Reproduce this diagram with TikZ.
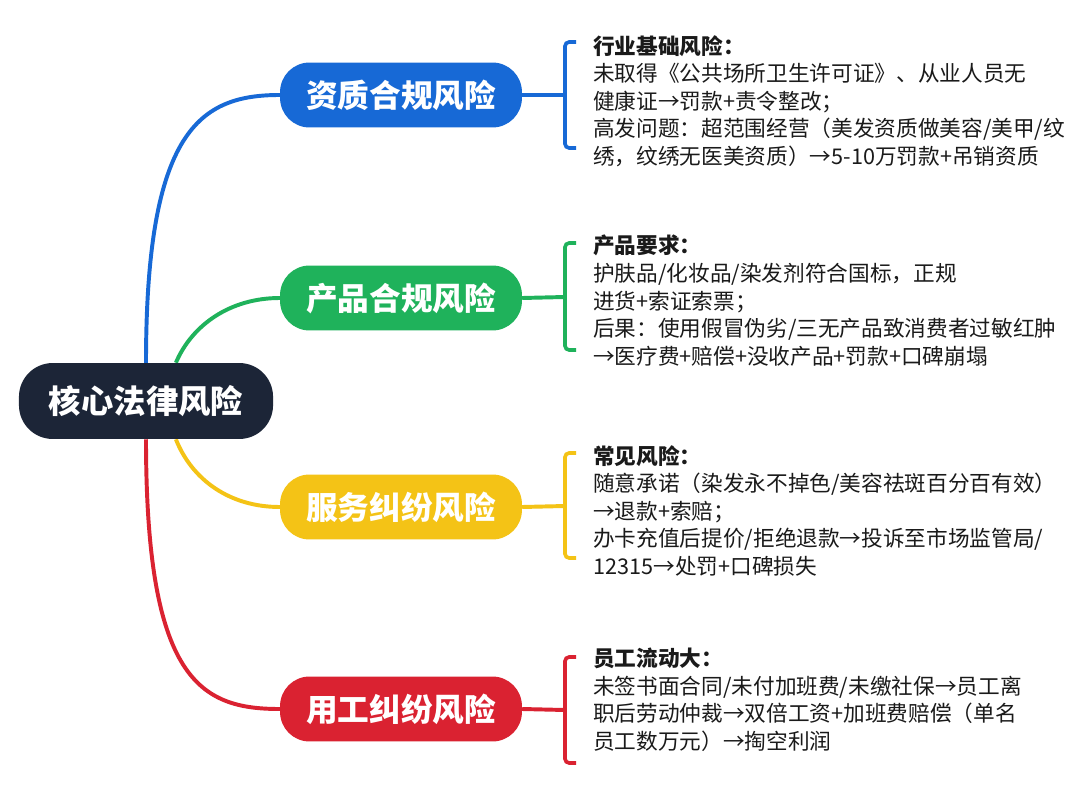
\documentclass[tikz,border=0pt]{standalone}
\usepackage{fontspec}
\usepackage{tikz}
\usetikzlibrary{backgrounds,positioning}
\setmainfont{Noto Sans CJK SC}
\definecolor{RiskNavy}{HTML}{1C2537}
\definecolor{RiskBlue}{HTML}{1769D6}
\definecolor{RiskGreen}{HTML}{1FB25B}
\definecolor{RiskYellow}{HTML}{F4C316}
\definecolor{RiskRed}{HTML}{DA2231}
\definecolor{RiskText}{HTML}{1A1A1A}
\tikzset{
  rootbox/.style={fill=RiskNavy,text=white,rounded corners=24pt,
    minimum width=180.7pt,minimum height=54pt,font=\fontsize{23}{26}\selectfont\bfseries},
  branchbox/.style={text=white,rounded corners=21pt,
    minimum width=172pt,minimum height=46.2pt,font=\fontsize{22.5}{26}\selectfont\bfseries},
  branchline/.style={line width=2.8pt},
  bracket/.style={line width=2.6pt,rounded corners=3pt},
  detail/.style={anchor=north west,inner sep=0pt,align=left,text=RiskText,
    font=\fontsize{15.4}{19.6}\selectfont}
}

\begin{document}
\begin{tikzpicture}[x=0.025cm,y=-0.025cm]
  \useasboundingbox (0,0) rectangle (1080,809);

  \node[rootbox] (root) at (146,401) {核心法律风险};

  \node[branchbox,fill=RiskBlue] (zizhi) at (401,95) {资质合规风险};
  \node[branchbox,fill=RiskGreen] (chanpin) at (401,298) {产品合规风险};
  \node[branchbox,fill=RiskYellow] (fuwu) at (401,507) {服务纠纷风险};
  \node[branchbox,fill=RiskRed] (yonggong) at (401,709) {用工纠纷风险};

  \coordinate (zizhiB) at (565,95);
  \coordinate (chanpinB) at (565,297);
  \coordinate (fuwuB) at (565,506);
  \coordinate (yonggongB) at (565,710);

  \node[detail] (zizhiT) at (593,35) {\textbf{行业基础风险：}\\
    未取得《公共场所卫生许可证》、从业人员无\\
    健康证→罚款+责令整改；\\
    高发问题：超范围经营（美发资质做美容/美甲/纹\\
    绣，纹绣无医美资质）→5-10万罚款+吊销资质};
  \node[detail] (chanpinT) at (593,235) {\textbf{产品要求：}\\
    护肤品/化妆品/染发剂符合国标，正规\\
    进货+索证索票；\\
    后果：使用假冒伪劣/三无产品致消费者过敏红肿\\
    →医疗费+赔偿+没收产品+罚款+口碑崩塌};
  \node[detail] (fuwuT) at (593,445) {\textbf{常见风险：}\\
    随意承诺（染发永不掉色/美容祛斑百分百有效）\\
    →退款+索赔；\\
    办卡充值后提价/拒绝退款→投诉至市场监管局/\\
    12315→处罚+口碑损失};
  \node[detail] (yonggongT) at (593,648) {\textbf{员工流动大：}\\
    未签书面合同/未付加班费/未缴社保→员工离\\
    职后劳动仲裁→双倍工资+加班费赔偿（单名\\
    员工数万元）→掏空利润};

  \begin{scope}[on background layer]
    \fill[white] (0,0) rectangle (1080,809);
    \draw[branchline,RiskBlue] (root.north) .. controls (146,130) and (200,95) .. (zizhi.west);
    \draw[branchline,RiskGreen] (root.52) .. controls (192,325) and (230,298) .. (chanpin.west);
    \draw[branchline,RiskYellow] (root.-52) .. controls (192,480) and (230,507) .. (fuwu.west);
    \draw[branchline,RiskRed] (root.south) .. controls (146,680) and (200,709) .. (yonggong.west);
  \end{scope}

  \draw[branchline,RiskBlue] (zizhi.east) -- (zizhiB);
  \draw[branchline,RiskGreen] (chanpin.east) -- (chanpinB);
  \draw[branchline,RiskYellow] (fuwu.east) -- (fuwuB);
  \draw[branchline,RiskRed] (yonggong.east) -- (yonggongB);

  \draw[bracket,RiskBlue] (576,42) -- (565,42) -- (565,148) -- (576,148);
  \draw[bracket,RiskGreen] (576,243) -- (565,243) -- (565,350) -- (576,350);
  \draw[bracket,RiskYellow] (576,453) -- (565,453) -- (565,558) -- (576,558);
  \draw[bracket,RiskRed] (576,657) -- (565,657) -- (565,763) -- (576,763);
\end{tikzpicture}
\end{document}
